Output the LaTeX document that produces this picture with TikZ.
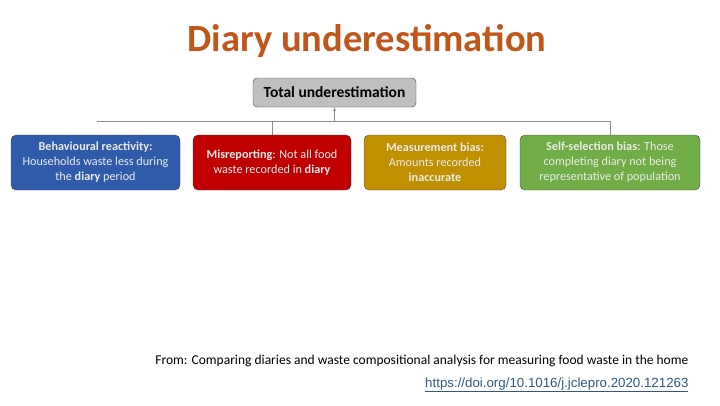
\documentclass[tikz,border=0pt]{standalone}
\usepackage{fontspec}
\setmainfont{Carlito}
\newfontfamily\linkfont{Liberation Sans}
\usetikzlibrary{arrows.meta}
\definecolor{titleorange}{HTML}{C0561A}
\definecolor{reactblue}{HTML}{2F5BAA}
\definecolor{misred}{HTML}{C00000}
\definecolor{measgold}{HTML}{BF9000}
\definecolor{selfgreen}{HTML}{70AD47}
\definecolor{totalgray}{HTML}{BFBFBF}
\definecolor{linkblue}{HTML}{2E5A80}
\begin{document}
\begin{tikzpicture}[x=1pt,y=-1pt,
    bias_box/.style={draw=black!70,rounded corners=5pt,text=white!92!black,align=center,
      minimum height=55pt,inner sep=1pt,font=\fontsize{12.2}{15}\selectfont},
    total_box/.style={draw=black!75,fill=totalgray,rounded corners=4pt,minimum width=163pt,
      minimum height=29pt,font=\fontsize{15.5}{17}\selectfont\bfseries},
    link_line/.style={draw=black!45,line width=0.8pt}]
    \useasboundingbox (0,0) rectangle (720,405);
    \node[text=titleorange,font=\fontsize{38.5}{42}\selectfont\bfseries] (title) at (367,41) {Diary underestimation};
    \node[total_box] (total) at (334.5,92.5) {Total underestimation};
    \node[bias_box,fill=reactblue,minimum width=169pt] (react) at (95.5,162.5)
      {\textbf{Behavioural reactivity:}\\Households waste less during\\the \textbf{diary} period};
    \node[bias_box,fill=misred,minimum width=158pt] (misrep) at (272,162.5)
      {\textbf{Misreporting}: Not all food\\waste recorded in \textbf{diary}};
    \node[bias_box,fill=measgold,minimum width=142pt] (meas) at (435,162.5)
      {\textbf{Measurement bias:}\\Amounts recorded\\\textbf{inaccurate}};
    \node[bias_box,fill=selfgreen,minimum width=180pt] (self) at (610,162.5)
      {\textbf{Self-selection bias:} Those\\completing diary not being\\representative of population};
    \coordinate (left_end) at (97,121);
    \coordinate (right_end) at (610,121);
    \coordinate (mid) at (334.5,121);
    \draw[link_line] (left_end) -- (right_end) -- (self.north);
    \draw[link_line] (misrep.north) -- (misrep.north |- mid);
    \draw[link_line,-{Stealth[length=4pt,width=3pt]}] (mid) -- (total.south);
    \node[anchor=base east,font=\fontsize{13.5}{15}\selectfont] (source) at (692,364)
      {From: Comparing diaries and waste compositional analysis for measuring food waste in the home};
    \node[anchor=base east,text=linkblue,font=\linkfont\fontsize{13.3}{15}\selectfont] (doi) at (692,387)
      {\underline{https://doi.org/10.1016/j.jclepro.2020.121263}};
\end{tikzpicture}
\end{document}
